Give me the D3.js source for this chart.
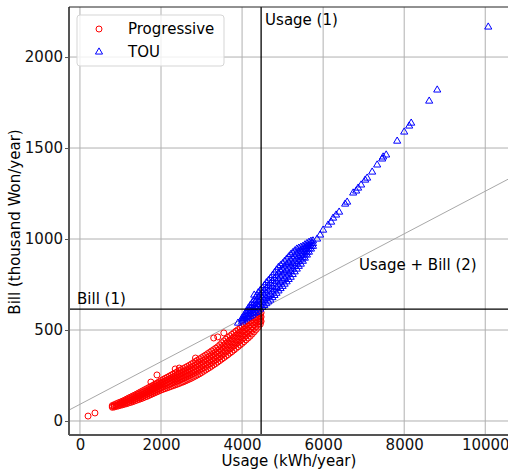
<!DOCTYPE html>
<html>
<head>
<meta charset="utf-8">
<script src="https://cdn.jsdelivr.net/npm/d3@7/dist/d3.min.js"></script>
<style>
  body { margin: 0; background: #fff; }
  text { font-family: "DejaVu Sans", sans-serif; }
</style>
</head>
<body>
<div class="chart-container"></div>
<script>
//! DATA  (usage kWh/year -> bills in thousand Won/year, read column by column)
const progressiveCols = [
  [200, [27]], [370, [44]],
  [800, [75, 80, 85]], [850, [77, 83, 90]], [900, [80, 87, 95]], [950, [83, 91, 100]],
  [1000, [86, 92, 98, 104]], [1050, [89, 96, 102, 109]], [1100, [92, 99, 107, 114]],
  [1150, [95, 103, 112, 120]], [1200, [99, 108, 117, 126]], [1250, [102, 112, 121, 131]],
  [1300, [106, 116, 127, 137]], [1350, [110, 121, 131, 142]], [1400, [114, 125, 137, 148]],
  [1450, [118, 127, 136, 145, 154]], [1500, [122, 131, 141, 150, 160]],
  [1550, [126, 136, 146, 156, 166]], [1600, [131, 141, 151, 162, 172]],
  [1650, [135, 146, 156, 167, 178]], [1700, [140, 151, 162, 173, 184]],
  [1750, [145, 156, 167, 179, 190, 214]], [1800, [150, 161, 173, 184, 196]],
  [1850, [155, 167, 178, 190, 202]], [1900, [160, 172, 184, 196, 208, 253]],
  [1950, [165, 177, 190, 202, 215]], [2000, [170, 183, 196, 209, 222]],
  [2050, [174, 187, 201, 214, 228]], [2100, [178, 192, 206, 220, 234]],
  [2150, [182, 196, 211, 225, 240]], [2200, [186, 201, 216, 231, 246]],
  [2250, [190, 205, 221, 236, 252]], [2300, [194, 210, 226, 242, 258]],
  [2350, [198, 214, 231, 247, 264, 286]], [2400, [202, 219, 236, 253, 270]],
  [2450, [206, 223, 241, 258, 276, 291]], [2500, [211, 229, 246, 264, 282]],
  [2550, [215, 233, 251, 270, 288]], [2600, [220, 238, 257, 275, 294]],
  [2650, [225, 244, 262, 281, 300]], [2700, [230, 249, 268, 287, 306]],
  [2750, [235, 255, 274, 294, 313]], [2800, [241, 261, 280, 300, 320]],
  [2850, [247, 267, 287, 307, 327, 346]], [2900, [253, 273, 294, 314, 334]],
  [2950, [259, 280, 300, 321, 341]], [3000, [266, 286, 307, 327, 348]],
  [3050, [273, 293, 314, 334, 355]], [3100, [280, 300, 321, 341, 362]],
  [3150, [287, 308, 328, 349, 370]], [3200, [294, 315, 335, 356, 377]],
  [3250, [301, 322, 343, 364, 385]], [3300, [309, 330, 350, 371, 392, 456]],
  [3350, [316, 337, 358, 379, 400]], [3400, [324, 345, 366, 387, 408, 462]],
  [3450, [332, 353, 375, 396, 418]], [3500, [340, 362, 385, 407, 430]],
  [3550, [348, 371, 394, 417, 440, 484]], [3600, [356, 380, 403, 427, 450]],
  [3650, [364, 388, 412, 435, 459]], [3700, [373, 397, 420, 444, 468]],
  [3750, [381, 405, 429, 452, 476]], [3800, [390, 414, 437, 461, 485]],
  [3850, [399, 423, 446, 470, 494]], [3900, [408, 432, 455, 479, 502]],
  [3950, [417, 440, 464, 487, 510]], [4000, [426, 449, 472, 495, 518]],
  [4050, [436, 458, 481, 503, 526]], [4100, [446, 468, 490, 512, 534]],
  [4150, [456, 478, 499, 521, 542]], [4200, [466, 487, 508, 529, 550]],
  [4250, [478, 498, 518, 538, 558]], [4300, [490, 509, 528, 546, 565]],
  [4350, [503, 520, 538, 555, 572]], [4400, [516, 532, 548, 564, 580]],
  [4450, [532, 546, 560, 574, 588]], [4470, [548, 572, 595]]
]

const touCols = [
  [3900, [538]], [4000, [545, 555, 565]], [4050, [555, 567, 580]],
  [4100, [562, 575, 587, 600]], [4150, [568, 585, 601, 618]],
  [4200, [575, 590, 605, 620, 635]], [4250, [582, 599, 616, 633, 650]],
  [4300, [590, 609, 628, 646, 665, 692]], [4350, [597, 619, 641, 663, 685]],
  [4400, [605, 630, 655, 680, 705]], [4450, [615, 641, 667, 692, 718]],
  [4500, [625, 651, 678, 704, 730]], [4550, [635, 663, 690, 718, 745]],
  [4600, [645, 674, 703, 731, 760]], [4650, [655, 684, 714, 743, 772]],
  [4700, [665, 695, 725, 755, 785]], [4750, [678, 709, 739, 770, 800]],
  [4800, [690, 721, 753, 784, 815]], [4850, [702, 734, 766, 798, 830]],
  [4900, [715, 748, 780, 813, 845]], [4950, [728, 760, 792, 823, 855]],
  [5000, [740, 771, 803, 834, 865]], [5050, [752, 784, 815, 847, 878]],
  [5100, [765, 796, 828, 859, 890]], [5150, [778, 809, 840, 871, 902]],
  [5200, [790, 821, 853, 884, 915]], [5250, [805, 835, 865, 895, 925]],
  [5300, [820, 849, 878, 906, 935]], [5350, [835, 863, 890, 918, 945]],
  [5400, [850, 876, 903, 929, 950]], [5450, [862, 886, 910, 934, 955]],
  [5500, [878, 898, 918, 940, 960]], [5550, [895, 913, 931, 950, 968]],
  [5600, [912, 928, 944, 960, 975]], [5650, [928, 946, 964, 982]],
  [5700, [945, 960, 975, 988]], [5750, [960, 975, 990]],
  // sparse upper tail
  [5852, [1000]], [5926, [1022]], [6000, [1049]], [6123, [1077]],
  [6198, [1093]], [6247, [1115]], [6321, [1132]], [6395, [1148]], [6543, [1192]],
  [6593, [1203]], [6741, [1253]], [6815, [1264]], [6864, [1280]], [6938, [1297]],
  [7037, [1324]], [7086, [1335]], [7210, [1368]], [7333, [1407]], [7457, [1440]],
  [7481, [1451]], [7556, [1462]], [7827, [1538]], [8000, [1588]], [8123, [1621]],
  [8173, [1637]], [8617, [1758]], [8815, [1819]], [10074, [2165]]
]

const xTicks = [0, 2000, 4000, 6000, 8000, 10000]
const yTicks = [0, 500, 1000, 1500, 2000]
const usageRef = 4470      // Usage (1)
const billRef = 615        // Bill (1)
const line2 = [[-270, 60], [10660, 1340]]   // Usage + Bill (2)

const progressive = progressiveCols.flatMap(([u, bills]) => bills.map(b => [u, b]))
const tou = touCols.flatMap(([u, bills]) => bills.map(b => [u, b]))

//! CONSTS
const width = 508
const height = 472
const pLeft = 69, pRight = 512, pTop = 7, pBottom = 435

//! SVG
const svg = d3.select('.chart-container')
  .append('svg')
  .attr('width', width)
  .attr('height', height)

//! SCALES
const xScale = d3.scaleLinear().domain([-270, 10660]).range([pLeft, pRight])
const yScale = d3.scaleLinear().domain([-77, 2275]).range([pBottom, pTop])

svg.append('clipPath').attr('id', 'clip')
  .append('rect').attr('x', pLeft).attr('y', pTop)
  .attr('width', pRight - pLeft).attr('height', pBottom - pTop)

//! GRID
svg.append('g').selectAll('line').data(xTicks).enter().append('line')
  .attr('x1', d => xScale(d)).attr('x2', d => xScale(d))
  .attr('y1', pTop).attr('y2', pBottom)
  .attr('stroke', '#b0b0b0').attr('stroke-width', 1)
svg.append('g').selectAll('line').data(yTicks).enter().append('line')
  .attr('x1', pLeft).attr('x2', pRight)
  .attr('y1', d => yScale(d)).attr('y2', d => yScale(d))
  .attr('stroke', '#b0b0b0').attr('stroke-width', 1)

const plotArea = svg.append('g').attr('clip-path', 'url(#clip)')

// diagonal reference
plotArea.append('line')
  .attr('x1', xScale(line2[0][0])).attr('y1', yScale(line2[0][1]))
  .attr('x2', xScale(line2[1][0])).attr('y2', yScale(line2[1][1]))
  .attr('stroke', '#a8a8a8').attr('stroke-width', 1)

//! POINTS
plotArea.append('g').selectAll('circle').data(progressive).enter().append('circle')
  .attr('cx', d => xScale(d[0]))
  .attr('cy', d => yScale(d[1]))
  .attr('r', 3)
  .attr('fill', 'none')
  .attr('stroke', 'red')
  .attr('stroke-width', 1)

const tri = d3.symbol().type(d3.symbolTriangle).size(22)
plotArea.append('g').selectAll('path').data(tou).enter().append('path')
  .attr('d', tri)
  .attr('transform', d => `translate(${xScale(d[0])},${yScale(d[1])})`)
  .attr('fill', 'none')
  .attr('stroke', 'blue')
  .attr('stroke-width', 1)

// reference lines
plotArea.append('line')
  .attr('x1', xScale(usageRef)).attr('x2', xScale(usageRef))
  .attr('y1', pTop).attr('y2', pBottom)
  .attr('stroke', '#000').attr('stroke-width', 1.3)
plotArea.append('line')
  .attr('x1', pLeft).attr('x2', pRight)
  .attr('y1', yScale(billRef)).attr('y2', yScale(billRef))
  .attr('stroke', '#000').attr('stroke-width', 1.3)

svg.append('text').attr('x', xScale(usageRef) + 4).attr('y', 25)
  .attr('font-size', 15).text('Usage (1)')
svg.append('text').attr('x', 77).attr('y', yScale(billRef) - 5)
  .attr('font-size', 15).text('Bill (1)')
svg.append('text').attr('x', 359).attr('y', 270)
  .attr('font-size', 15).text('Usage + Bill (2)')

//! AXES
const xAxis = d3.axisBottom(xScale).tickValues(xTicks).tickSize(0).tickPadding(4).tickFormat(d3.format('d'))
const yAxis = d3.axisLeft(yScale).tickValues(yTicks).tickSize(4).tickPadding(2).tickFormat(d3.format('d'))

const gx = svg.append('g').attr('transform', `translate(0,${pBottom})`).call(xAxis)
gx.select('.domain').remove()
gx.selectAll('text').attr('font-size', 15).attr('fill', '#111').style('font-family', 'DejaVu Sans')

const gy = svg.append('g').attr('transform', `translate(${pLeft},0)`).call(yAxis)
gy.select('.domain').remove()
gy.selectAll('line').attr('stroke', '#555')
gy.selectAll('text').attr('font-size', 15).attr('fill', '#111').style('font-family', 'DejaVu Sans')

// spines
svg.append('line').attr('x1', pLeft).attr('x2', pLeft).attr('y1', pTop).attr('y2', pBottom)
  .attr('stroke', '#555').attr('stroke-width', 2)
svg.append('line').attr('x1', pLeft).attr('x2', pRight).attr('y1', pBottom).attr('y2', pBottom)
  .attr('stroke', '#555').attr('stroke-width', 2)
svg.append('line').attr('x1', pLeft).attr('x2', pRight).attr('y1', pTop).attr('y2', pTop)
  .attr('stroke', '#222').attr('stroke-width', 1)

// axis titles
svg.append('text').attr('x', 289).attr('y', 466).attr('text-anchor', 'middle')
  .attr('font-size', 15).text('Usage (kWh/year)')
svg.append('text').attr('transform', 'translate(20,222) rotate(-90)').attr('text-anchor', 'middle')
  .attr('font-size', 15).text('Bill (thousand Won/year)')

//! LEGEND
const legend = svg.append('g')
legend.append('rect').attr('x', 77).attr('y', 15).attr('width', 147).attr('height', 51)
  .attr('rx', 3).attr('fill', 'white').attr('fill-opacity', 0.8)
  .attr('stroke', '#d5d5d5').attr('stroke-width', 1)
legend.append('circle').attr('cx', 99).attr('cy', 29).attr('r', 3)
  .attr('fill', 'none').attr('stroke', 'red')
legend.append('path').attr('d', tri).attr('transform', 'translate(99,52)')
  .attr('fill', 'none').attr('stroke', 'blue')
legend.append('text').attr('x', 128).attr('y', 34).attr('font-size', 15).text('Progressive')
legend.append('text').attr('x', 128).attr('y', 57).attr('font-size', 15).text('TOU')
</script>
</body>
</html>
